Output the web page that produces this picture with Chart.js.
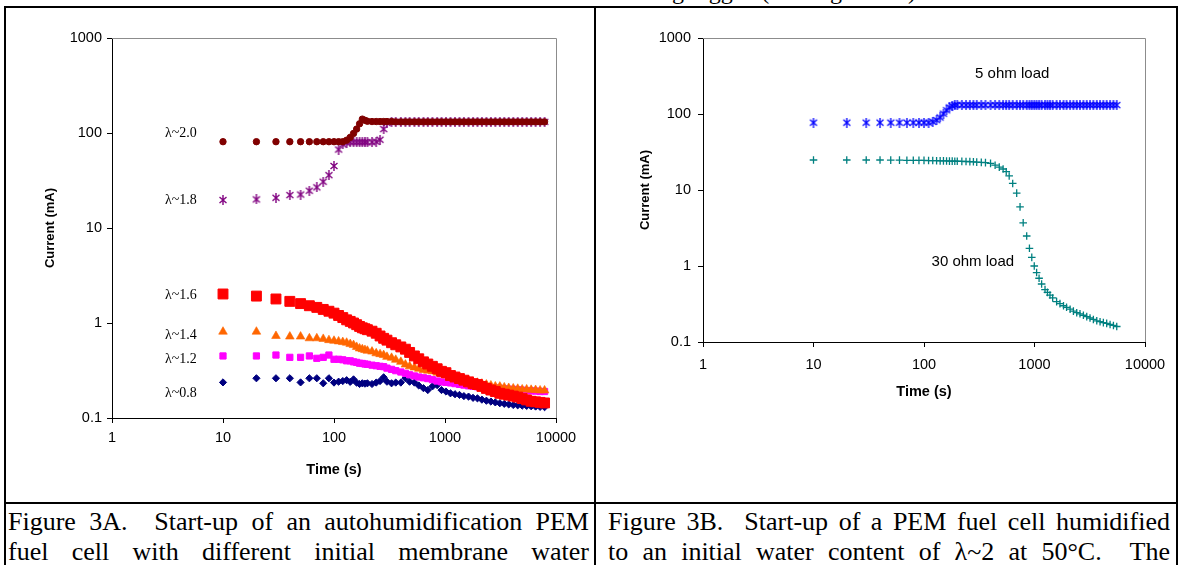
<!DOCTYPE html>
<html><head><meta charset="utf-8">
<script src="https://cdn.jsdelivr.net/npm/chart.js@4.4.1/dist/chart.umd.min.js"></script>
<style>
html,body{margin:0;padding:0;background:#fff;}
#page{position:relative;width:1179px;height:565px;overflow:hidden;background:#fff;}
.ln{position:absolute;background:#000;z-index:5;}
canvas{position:absolute;}
.cap{position:absolute;font-family:'Liberation Serif','Times New Roman',serif;font-size:26px;line-height:30px;height:30px;color:#000;text-align:justify;text-align-last:justify;}
.top{position:absolute;font-family:'Liberation Serif','Times New Roman',serif;font-size:24px;line-height:24px;white-space:nowrap;color:#000;}
</style></head>
<body><div id="page">
<div class="top" style="right:257px;top:-21px;">The current of the fuel cell was measured with the load resistance being logged (See Figure 3A).</div>
<canvas id="cA" width="594" height="502" style="left:0;top:0"></canvas>
<canvas id="cB" width="580" height="502" style="left:596px;top:0"></canvas>
<div class="ln" style="left:4px;top:6px;width:1174px;height:2px"></div>
<div class="ln" style="left:4px;top:6px;width:2px;height:559px"></div>
<div class="ln" style="left:594px;top:6px;width:2px;height:559px"></div>
<div class="ln" style="left:1176px;top:6px;width:2px;height:559px"></div>
<div class="ln" style="left:4px;top:502px;width:1174px;height:2px"></div>
<div class="cap" style="left:8px;top:507px;width:581px">Figure 3A.&nbsp; Start-up of an autohumidification PEM</div>
<div class="cap" style="left:8px;top:537px;width:581px">fuel cell with different initial membrane water</div>
<div class="cap" style="left:608px;top:507px;width:562px">Figure 3B.&nbsp; Start-up of a PEM fuel cell humidified</div>
<div class="cap" style="left:608px;top:537px;width:562px">to an initial water content of &lambda;~2 at 50&deg;C.&nbsp; The</div>
</div>
<script>
// ---------- Figure 3A data ----------
const tA = [10,20,30,40,50,60,70,80,90,100,
  110,120,130,140,150,160,170,180,190,200,
  220,240,260,280,300,330,360,400,440,480,
  530,580,640,700,770,850,930,1020,1120,1230,
  1350,1480,1630,1790,1960,2150,2360,2590,2840,3120,
  3420,3750,4120,4520,4960,5440,5970,6550,7190,7890];
const lam20 = [81,81,81,81,81,81,81,81,81,81,
  81,81,84,90,99,110,125,140,136,133,
  132,132,132,132,132,132,131,131,131,131,
  131,131,131,131,131,131,131,131,131,131,
  131,131,131,131,131,131,131,131,131,131,
  131,131,131,131,131,131,131,131,131,131];
const lam18 = [19.7,20,20.8,22.2,22.5,24.7,26.8,30.7,36,45,
  67,76,79,80,80,80,80,80,80,80,
  80,81,85,110,128,131,131,131,131,131,
  131,131,131,131,131,131,131,131,131,131,
  131,131,131,131,131,131,131,131,131,131,
  131,131,131,131,131,131,131,131,131,131];
const lam16 = [2.02,1.92,1.79,1.69,1.60,1.52,1.46,1.39,1.33,1.27,
  1.20,1.14,1.08,1.04,1.00,0.96,0.92,0.89,0.87,0.85,
  0.82,0.78,0.73,0.69,0.66,0.62,0.59,0.56,0.53,0.49,
  0.45,0.42,0.39,0.37,0.35,0.33,0.31,0.30,0.28,0.27,
  0.26,0.25,0.24,0.23,0.225,0.215,0.205,0.197,0.19,0.182,
  0.178,0.174,0.17,0.166,0.16,0.155,0.15,0.148,0.146,0.144];
const lam14 = [0.81,0.81,0.73,0.72,0.72,0.69,0.69,0.68,0.66,0.65,
  0.64,0.63,0.62,0.60,0.586,0.56,0.54,0.53,0.52,0.51,
  0.50,0.48,0.47,0.46,0.44,0.43,0.41,0.39,0.365,0.35,
  0.34,0.33,0.32,0.315,0.31,0.30,0.29,0.28,0.27,0.265,
  0.26,0.255,0.25,0.24,0.235,0.23,0.225,0.22,0.215,0.214,
  0.21,0.207,0.205,0.203,0.2,0.2,0.198,0.197,0.195,0.195];
const lam12 = [0.45,0.45,0.46,0.435,0.435,0.45,0.425,0.435,0.46,0.415,
  0.415,0.41,0.40,0.40,0.39,0.385,0.377,0.375,0.37,0.367,
  0.36,0.355,0.35,0.347,0.335,0.325,0.315,0.305,0.295,0.285,
  0.277,0.27,0.265,0.26,0.253,0.245,0.24,0.237,0.234,0.23,
  0.226,0.222,0.218,0.215,0.213,0.212,0.21,0.208,0.207,0.205,
  0.203,0.2,0.2,0.198,0.196,0.194,0.193,0.192,0.19,0.19];
const lam08 = [0.237,0.262,0.262,0.262,0.237,0.262,0.262,0.232,0.262,0.236,
  0.241,0.245,0.25,0.24,0.255,0.235,0.228,0.232,0.23,0.232,
  0.228,0.236,0.245,0.268,0.241,0.232,0.236,0.236,0.262,0.241,
  0.236,0.22,0.206,0.197,0.215,0.222,0.197,0.19,0.182,0.178,
  0.175,0.17,0.168,0.163,0.161,0.156,0.152,0.149,0.146,0.143,
  0.141,0.139,0.137,0.136,0.135,0.134,0.133,0.132,0.131,0.13];
const labelsA = ['\u03bb~2.0','\u03bb~1.8','\u03bb~1.6','\u03bb~1.4','\u03bb~1.2','\u03bb~0.8'];
const labelYA = [100,19.7,1.94,0.75,0.41,0.183];

// ---------- Figure 3B data ----------
const tB = [10,20,30,40,50,60,70,80,90,100,
  110,120,130,140,150,160,170,180,190,200,
  220,240,260,280,300,330,360,400,440,480,
  520,555,590,635,690,740,790,850,900,945,
  995,1045,1100,1160,1245,1310,1380,1460,1585,1700,
  1830,1950,2100,2250,2410,2580,2770,2970,3180,3410,
  3660,3920,4200,4500,4830,5180,5550];
const ohm5 = [77,77,77,77,77,77,77,77,77,77,
  77,79,83,90,101,112,122,128,131,132,
  131,131,131,131,131,131,131,131,131,131,
  131,131,131,131,131,131,131,131,131,131,
  131,131,131,131,131,131,131,131,131,131,
  131,131,131,131,131,131,131,131,131,131,
  131,131,131,131,131,131,131];
const ohm30 = [24.8,24.8,24.8,24.8,24.7,24.7,24.6,24.6,24.5,24.5,
  24.4,24.4,24.3,24.2,24.2,24.1,24.0,24.0,23.9,23.9,
  23.8,23.7,23.6,23.5,23.3,23.1,22.9,22.4,21.2,20.0,
  18.9,17.4,15.3,12.2,9.1,6.0,3.7,2.48,1.71,1.30,
  1.0,0.82,0.69,0.58,0.49,0.45,0.415,0.38,0.34,0.32,
  0.30,0.286,0.27,0.255,0.243,0.235,0.225,0.216,0.207,0.198,
  0.19,0.185,0.18,0.176,0.17,0.165,0.16];
const labelsB = ['5 ohm load','30 ohm load'];

// ---------- axes ----------
const xTicks = [1,10,100,1000,10000];
const xTickLabels = ['1','10','100','1000','10000'];
const yTicks = [0.1,1,10,100,1000];
const yTickLabels = ['0.1','1','10','100','1000'];

const SANS = "'Liberation Sans', Arial, sans-serif";
const SERIF = "'Liberation Serif', 'Times New Roman', serif";

function asterisk(color, size, lw){
  const c = document.createElement('canvas');
  c.width = size; c.height = size;
  const g = c.getContext('2d');
  g.strokeStyle = color; g.lineWidth = lw;
  const m = 1, h = size/2;
  g.beginPath();
  g.moveTo(m+0.5, m+1); g.lineTo(size-m-0.5, size-m-1);
  g.moveTo(size-m-0.5, m+1); g.lineTo(m+0.5, size-m-1);
  g.moveTo(h, 0); g.lineTo(h, size);
  g.stroke();
  return c;
}
const pts = (ts, vs) => ts.map((t,i) => ({x:t, y:vs[i]}));

const framePlugin = {id:'frame', beforeDatasetsDraw(c){
  const a = c.chartArea, g = c.ctx;
  g.save(); g.strokeStyle = '#8c8c8c'; g.lineWidth = 1;
  g.beginPath();
  g.moveTo(Math.round(a.left), Math.round(a.top)+0.5);
  g.lineTo(Math.round(a.right)+0.5, Math.round(a.top)+0.5);
  g.lineTo(Math.round(a.right)+0.5, Math.round(a.bottom));
  g.stroke(); g.restore();
}};
function notesPlugin(items){
  return {id:'notes', afterDatasetsDraw(c){
    const g = c.ctx, xs = c.scales.x, ys = c.scales.y;
    g.save(); g.fillStyle = '#000'; g.textBaseline = 'middle'; g.textAlign = 'left';
    for (const n of items){ g.font = n.font; g.fillText(n.text, xs.getPixelForValue(n.x), ys.getPixelForValue(n.y)); }
    g.restore();
  }};
}

function makeChart(id, datasets, o){
  return new Chart(document.getElementById(id), {
    type:'scatter',
    data:{datasets},
    options:{
      responsive:false, animation:false, devicePixelRatio:1,
      layout:{padding:{left:o.padL, top:o.padT, right:o.padR, bottom:o.padB}},
      plugins:{legend:{display:false}, tooltip:{enabled:false}},
      elements:{point:{hoverRadius:0}},
      scales:{
        x:{type:'logarithmic', min:1, max:10000,
          afterBuildTicks:s => { s.ticks = xTicks.map(v => ({value:v})); },
          afterFit:s => { s.height = o.xH; },
          ticks:{callback:(v,i) => xTickLabels[i], font:{family:SANS, size:14.5}, color:'#000', padding:o.xPad, maxRotation:0, autoSkip:false},
          grid:{drawOnChartArea:false, drawTicks:true, tickLength:5, tickColor:'#000'},
          border:{display:true, color:'#000', width:1},
          title:{display:true, text:'Time (s)', font:{family:SANS, size:14.5, weight:'bold'}, color:'#000', padding:{top:0, bottom:0}}
        },
        y:{type:'logarithmic', min:0.1, max:1000,
          afterBuildTicks:s => { s.ticks = yTicks.map(v => ({value:v})); },
          afterFit:s => { s.width = o.yW; },
          ticks:{callback:(v,i) => yTickLabels[i], font:{family:SANS, size:14.5}, color:'#000', padding:o.yPad, autoSkip:false},
          grid:{drawOnChartArea:false, drawTicks:true, tickLength:5, tickColor:'#000'},
          border:{display:true, color:'#000', width:1},
          title:{display:true, text:'Current (mA)', font:{family:SANS, size:13, weight:'bold'}, color:'#000', padding:{top:0, bottom:0}}
        }
      }
    },
    plugins:[framePlugin, notesPlugin(o.notes)]
  });
}

const starPurple = asterisk('#800080', 10, 1.4);
const starBlue = asterisk('#0000ff', 10, 1.3);

makeChart('cA', [
  {label:labelsA[0], data:pts(tA, lam20), order:1, pointStyle:'circle', pointRadius:3.2, pointBorderWidth:1, backgroundColor:'#800000', borderColor:'#800000'},
  {label:labelsA[1], data:pts(tA, lam18), order:2, pointStyle:starPurple, pointRadius:5, backgroundColor:'#800080', borderColor:'#800080'},
  {label:labelsA[2], data:pts(tA, lam16), order:0, pointStyle:'rect', pointRadius:7, pointBorderWidth:1, backgroundColor:'#ff0000', borderColor:'#ff0000'},
  {label:labelsA[3], data:pts(tA, lam14), order:3, pointStyle:'triangle', pointRadius:5, pointBorderWidth:0.6, backgroundColor:'#ff6600', borderColor:'#ff6600'},
  {label:labelsA[4], data:pts(tA, lam12), order:4, pointStyle:'rect', pointRadius:4.4, pointBorderWidth:1, backgroundColor:'#ff00ff', borderColor:'#ff00ff'},
  {label:labelsA[5], data:pts(tA, lam08), order:5, pointStyle:'rectRot', pointRadius:3.6, pointBorderWidth:1, backgroundColor:'#000080', borderColor:'#000080'}
], {padL:43, padT:38, padR:38, padB:23.6, yW:69, xH:60.4, xPad:6.4, yPad:5,
  notes: labelsA.map((t,i) => ({text:t, x:3, y:labelYA[i], font:"14px " + SERIF}))});

makeChart('cB', [
  {label:labelsB[0], data:pts(tB, ohm5), order:0, pointStyle:starBlue, pointRadius:5, backgroundColor:'#0000ff', borderColor:'#0000ff'},
  {label:labelsB[1], data:pts(tB, ohm30), order:1, pointStyle:'cross', pointRadius:3.8, pointBorderWidth:1.3, backgroundColor:'#008080', borderColor:'#008080'}
], {padL:41.8, padT:38, padR:31, padB:101.6, yW:65.2, xH:58.4, xPad:9.4, yPad:7,
  notes:[{text:labelsB[0], x:290, y:333, font:"15px " + SANS}, {text:labelsB[1], x:117, y:1.12, font:"15px " + SANS}]});
</script>
</body></html>
